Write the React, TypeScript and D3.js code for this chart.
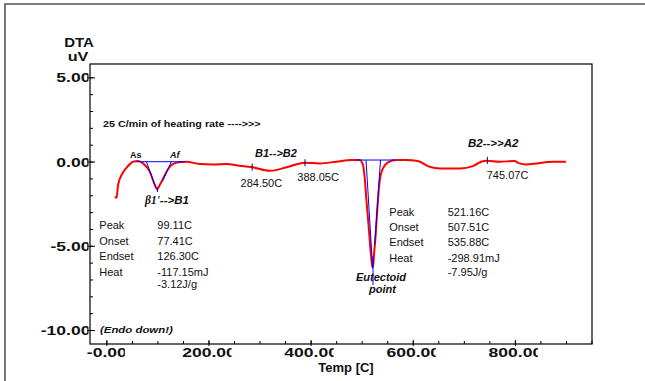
import React, { useEffect, useRef } from "react";
import * as d3 from "d3";

// DTA curve (temperature in C, signal in uV)
const temps = [15.7, 19, 22, 28.8, 38.5, 51.5, 61, 71, 84, 94, 98.5, 102, 107, 117, 126.6, 139.6, 156, 182, 208, 234, 260, 283, 319, 352, 387.5, 417, 449.5, 480, 495, 501.6, 505, 508, 513, 516.6, 520, 521.2, 523, 526.4, 529.7, 534, 540.7, 550.5, 567, 585, 609, 632, 652, 691, 717, 733, 743, 769, 798, 808, 821, 841, 873, 899];
const dta = [-2.06, -2.12, -1.36, -0.77, -0.34, 0.02, 0.06, -0.08, -0.57, -1.36, -1.62, -1.45, -1.17, -0.57, -0.18, -0.02, 0.02, -0.12, -0.14, -0.12, -0.22, -0.3, -0.52, -0.31, -0.04, -0.08, 0.02, 0.12, 0.12, -0.18, -0.97, -2.16, -3.94, -5.32, -6.21, -6.25, -5.52, -4.33, -2.75, -1.17, -0.37, -0.02, 0.12, 0.12, 0.06, -0.28, -0.38, -0.38, -0.24, 0.02, 0.08, 0.02, 0.06, -0.08, -0.14, -0.08, 0.02, 0.02];

const xTicks = [0, 200, 400, 600, 800];
const xTickLabels = ["-0.00", "200.00", "400.00", "600.00", "800.00"];
const yTicks = [5, 0, -5, -10];
const yTickLabels = ["5.00", "0.00", "-5.00", "-10.00"];

// marked temperatures on the curve
const markTemps = [284.5, 388.05, 745.07];
const markVals = [-0.3, -0.04, 0.1];
const markLabels = ["284.50C", "388.05C", "745.07C"];

// peak analysis (beta1 peak, eutectoid peak)
const peakT = [99.11, 521.16];
const onsetT = [77.41, 507.51];
const endsetT = [126.3, 535.88];
const baseFrom = [58, 489];
const baseTo = [153, 567];
const baseLevel = [0.02, 0.12];
const leftTip = [[96, -1.52], [520.5, -6.3]];
const rightTip = [[109, -1.13], [524.5, -4.9]];
const peakMark = [[-1.5, -1.78], [-5.6, -7.3]];

const tableNames = ["Peak", "Onset", "Endset", "Heat"];
const peak1Values = ["99.11C", "77.41C", "126.30C", "-117.15mJ", "-3.12J/g"];
const peak2Values = ["521.16C", "507.51C", "535.88C", "-298.91mJ", "-7.95J/g"];

const FONT = "'Liberation Sans', Arial, sans-serif";

const App = () => {
  const ref = useRef(null);
  const dim = { width: 645, height: 381, left: 90, right: 592, top: 64, bottom: 344 };

  useEffect(() => {
    const svg = d3.select(ref.current);
    svg.selectAll("*").remove();

    const x = d3.scaleLinear().domain([-33, 950]).range([dim.left, dim.right]);
    const y = d3.scaleLinear().domain([5.82, -10.8]).range([dim.top, dim.bottom]);

    const txt = (g, px, py, s, o: any = {}) =>
      g.append("text")
        .attr("transform", `translate(${px},${py})` + (o.sx ? ` scale(${o.sx},1)` : ""))
        .attr("font-family", FONT)
        .attr("font-size", o.size || 11)
        .attr("font-weight", o.bold ? "bold" : "normal")
        .attr("font-style", o.italic ? "italic" : "normal")
        .attr("text-anchor", o.anchor || "start")
        .attr("fill", "#111")
        .text(s);

    // outer frame
    svg.append("path")
      .attr("d", `M5,${dim.height + 5} L5,4 L${dim.width + 5},4`)
      .attr("fill", "none").attr("stroke", "#555").attr("stroke-width", 1.6);

    // plot frame
    svg.append("rect")
      .attr("x", dim.left).attr("y", dim.top)
      .attr("width", dim.right - dim.left).attr("height", dim.bottom - dim.top)
      .attr("fill", "none").attr("stroke", "#000").attr("stroke-width", 1.2);

    // y ticks
    const yMinor = d3.range(-10, 6, 1);
    svg.append("g").selectAll("line").data(yMinor).join("line")
      .attr("x1", dim.left).attr("x2", dim.left + 3)
      .attr("y1", d => y(d)).attr("y2", d => y(d))
      .attr("stroke", "#000");
    svg.append("g").selectAll("line").data(yTicks).join("line")
      .attr("x1", dim.left - 3).attr("x2", dim.left + 5)
      .attr("y1", d => y(d)).attr("y2", d => y(d))
      .attr("stroke", "#000");

    const defs = svg.append("defs");
    defs.append("clipPath").attr("id", "yclip")
      .append("rect").attr("x", 0).attr("y", 0).attr("width", dim.left - 1.5).attr("height", dim.height);
    const yl = svg.append("g").attr("clip-path", "url(#yclip)");
    yTicks.forEach((v, i) => txt(yl, dim.left + 0.5, y(v) + 4.6, yTickLabels[i], { bold: true, size: 13, sx: 1.35, anchor: "end" }));

    // x ticks
    const xMinor = d3.range(0, 951, 50);
    svg.append("g").selectAll("line").data(xMinor).join("line")
      .attr("x1", d => x(d)).attr("x2", d => x(d))
      .attr("y1", dim.bottom - 3).attr("y2", dim.bottom)
      .attr("stroke", "#000");
    svg.append("g").selectAll("line").data(xTicks).join("line")
      .attr("x1", d => x(d)).attr("x2", d => x(d))
      .attr("y1", dim.bottom - 4).attr("y2", dim.bottom + 2)
      .attr("stroke", "#000");
    xTicks.forEach((v, i) => {
      const cut = xTickLabels[i].length > 5 ? 22.5 : 18;
      defs.append("clipPath").attr("id", "xclip" + i)
        .append("rect").attr("x", x(v) - 40).attr("y", dim.bottom).attr("width", 40 + cut).attr("height", 20);
      const g = svg.append("g").attr("clip-path", `url(#xclip${i})`);
      txt(g, x(v), dim.bottom + 12.8, xTickLabels[i], { bold: true, size: 13, sx: 1.35, anchor: "middle" });
    });

    // axis titles
    txt(svg, 79, 46.5, "DTA", { bold: true, size: 12.5, sx: 1.2, anchor: "middle" });
    txt(svg, 78, 61, "uV", { bold: true, size: 12.5, sx: 1.3, anchor: "middle" });
    txt(svg, 346, 371.5, "Temp [C]", { bold: true, size: 13, anchor: "middle" });

    // peak baselines and tangents
    const blue = svg.append("g").attr("stroke", "#0000ff").attr("stroke-width", 1).attr("fill", "none");
    peakT.forEach((p, i) => {
      blue.append("line").attr("x1", x(baseFrom[i])).attr("x2", x(baseTo[i]))
        .attr("y1", y(baseLevel[i])).attr("y2", y(baseLevel[i]));
      blue.append("line").attr("x1", x(onsetT[i])).attr("y1", y(baseLevel[i]))
        .attr("x2", x(leftTip[i][0])).attr("y2", y(leftTip[i][1]));
      blue.append("line").attr("x1", x(endsetT[i])).attr("y1", y(baseLevel[i]))
        .attr("x2", x(rightTip[i][0])).attr("y2", y(rightTip[i][1]));
    });

    // curve
    const line = d3.line<number>()
      .x((d, i) => x(temps[i]))
      .y(d => y(d))
      .curve(d3.curveMonotoneX);
    svg.append("path")
      .attr("d", line(dta))
      .attr("fill", "none").attr("stroke", "#ff0000").attr("stroke-width", 2)
      .attr("stroke-linejoin", "round");

    // peak markers on top
    peakT.forEach((p, i) => {
      blue.append("line").attr("x1", x(p)).attr("x2", x(p))
        .attr("y1", y(peakMark[i][0])).attr("y2", y(peakMark[i][1]));
    });
    svg.node().appendChild(blue.node());

    // marks at temperatures
    svg.append("g").selectAll("line").data(markTemps).join("line")
      .attr("x1", d => x(d)).attr("x2", d => x(d))
      .attr("y1", (d, i) => y(markVals[i]) - 3.5).attr("y2", (d, i) => y(markVals[i]) + 3.5)
      .attr("stroke", "#000080").attr("stroke-width", 1);
    const markDx = [-11.6, -7.7, -0.6];
    const markDy = [20, 18, 19];
    markTemps.forEach((t, i) => txt(svg, x(t) + markDx[i], y(markVals[i]) + markDy[i], markLabels[i], { size: 11 }));

    // annotations
    txt(svg, 103, 127, "25 C/min of heating rate    ---->>>", { bold: true, size: 9.5, sx: 1.13 });
    txt(svg, 130, 157.7, "As", { bold: true, size: 9 });
    txt(svg, 170, 157.7, "Af", { bold: true, italic: true, size: 9 });
    const b1 = txt(svg, 145, 204, "", { bold: true, italic: true, size: 11.5 });
    b1.append("tspan").attr("font-family", "'Liberation Serif', 'Times New Roman', serif").text("β1'");
    b1.append("tspan").text("-->B1");
    txt(svg, 255, 157, "B1-->B2", { bold: true, italic: true, size: 11 });
    txt(svg, 468, 147, "B2-->>A2", { bold: true, italic: true, size: 11.5 });
    txt(svg, 381, 280.5, "Eutectoid", { bold: true, italic: true, size: 11, anchor: "middle" });
    txt(svg, 382.5, 293.3, "point", { bold: true, italic: true, size: 11, anchor: "middle" });
    txt(svg, 100, 332.7, "(Endo down!)", { bold: true, italic: true, size: 9.5, sx: 1.2 });

    // peak tables
    const rows1 = [229.3, 244.7, 260, 275.7, 288.3];
    const rows2 = [215.7, 230.7, 246, 262, 276];
    tableNames.forEach((n, i) => {
      txt(svg, 99.3, rows1[i], n, { size: 11 });
      txt(svg, 389.3, rows2[i], n, { size: 11 });
    });
    peak1Values.forEach((v, i) => txt(svg, 157.3, rows1[i], v, { size: 11 }));
    peak2Values.forEach((v, i) => txt(svg, 447.7, rows2[i], v, { size: 11 }));
  }, []);

  return (
    <svg ref={ref} width={dim.width} height={dim.height}
      style={{ position: "absolute", left: 0, top: 0, background: "#fff" }} />
  );
};

export default App;
